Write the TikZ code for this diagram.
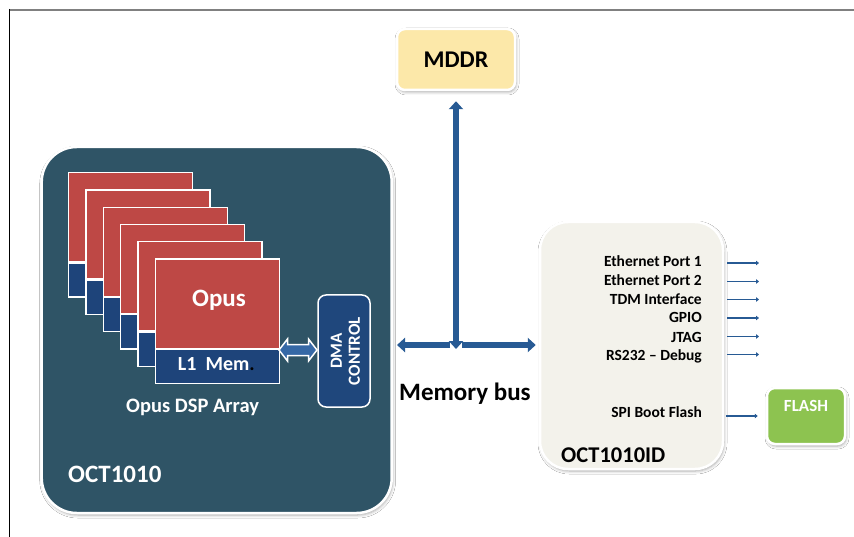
\documentclass[tikz,border=0pt]{standalone}
\usepackage{fontspec}
\setmainfont{Carlito}
\usetikzlibrary{arrows.meta,shadows.blur,calc}
\definecolor{octbg}{HTML}{2F5466}
\definecolor{cardred}{HTML}{BE4845}
\definecolor{cardblue}{HTML}{1E447A}
\definecolor{dmac}{HTML}{1F477C}
\definecolor{busc}{HTML}{275A94}
\definecolor{hollowc}{HTML}{3568A6}
\definecolor{mddrc}{HTML}{FCE8A9}
\definecolor{idc}{HTML}{F3F2EB}
\definecolor{flashc}{HTML}{8DC350}
\definecolor{framegray}{HTML}{808080}
\newcommand\fsz[1]{\fontsize{#1}{#1}\selectfont}
\begin{document}
\begin{tikzpicture}[x=1pt,y=-1pt,
  box/.style={draw=white, line width=2.5pt, rounded corners=#1, inner sep=0pt,
    blur shadow={shadow xshift=1pt, shadow yshift=-2pt, shadow opacity=35, shadow blur radius=3pt}},
  redpart/.style={draw=white, line width=1.3pt, fill=cardred, minimum width=124pt, minimum height=89pt, inner sep=0pt},
  bluepart/.style={draw=white, line width=1.3pt, fill=cardblue, minimum width=124pt, minimum height=34pt, inner sep=0pt},
  txtw/.style={text=white, inner sep=0pt},
  txtb/.style={text=black, inner sep=0pt},
  port/.style={text=black, inner sep=0pt, font=\fsz{15.5}\bfseries},
  bus/.style={draw=busc, line width=6pt, -{Triangle[width=14pt,length=8pt]}},
  portline/.style={draw=busc, line width=1.8pt, -{Triangle[width=4.5pt,length=3pt]}}
]
\useasboundingbox (0,0) rectangle (854,537);
\fill[white] (0,0) rectangle (854,537);
% frame
\draw[framegray, line width=2pt] (9,9.8) -- (854,9.8);
\draw[black, line width=1.3pt] (9.6,9) -- (9.6,537);

% MDDR
\node[box=8pt, fill=mddrc, minimum width=118pt, minimum height=61pt, font=\fsz{24}\bfseries] (mddr) at (456,59.5) {MDDR};

% OCT1010 big box
\node[box=35pt, fill=octbg, minimum width=350pt, minimum height=366pt] (oct) at (216.7,330) {};

% cards
\foreach \i in {0,...,5} {
  \node[redpart, anchor=north west] (r\i) at ({68+17.3*\i},{172+17.3*\i}) {};
  \node[bluepart, anchor=north] (m\i) at (r\i.south) {};
}
\node[txtw, font=\fsz{25}\bfseries, anchor=base] (opust) at (219,306) {Opus};
\node[txtw, font=\fsz{20}\bfseries, anchor=base west] (l1t) at (177.7,370) {L1\ \ Mem\textcolor{black}{.}};
\node[txtw, font=\fsz{20.5}\bfseries, anchor=base west] (arrt) at (126,412.7) {Opus DSP Array};
\node[txtw, font=\fsz{25}\bfseries, anchor=base west] (octt) at (68,482.3) {OCT1010};

% DMA control
\node[draw=white, line width=1.5pt, fill=dmac, rounded corners=8pt, minimum width=52pt, minimum height=112pt, inner sep=0pt] (dma) at (344,351) {};
\node[txtw, rotate=90, align=center, font=\fsz{17}\bfseries] (dmat) at (345.5,351) {DMA\\[1pt]CONTROL};

% hollow double arrow between L1 Mem and DMA
\draw[white, line width=1.5pt, fill=hollowc, line join=miter]
  (279,350) -- (287.5,339) -- (287.5,344.5) -- (308.5,344.5) -- (308.5,339) -- (317,350)
  -- (308.5,361) -- (308.5,355.5) -- (287.5,355.5) -- (287.5,361) -- cycle;

% OCT1010ID box
\node[box=28pt, fill=idc, minimum width=183pt, minimum height=247pt] (idb) at (631.5,345.5) {};
\node[txtb, font=\fsz{22.5}\bfseries, anchor=base west] (idt) at (561,462.3) {OCT1010ID};

% FLASH
\node[box=8pt, fill=flashc, minimum width=78pt, minimum height=56pt] (flash) at (806,416) {};
\node[txtw, font=\fsz{17}\bfseries, anchor=base] (flasht) at (806,411) {FLASH};

% Memory bus
\coordinate (junc) at (456,345);
\coordinate (busl) at (397,345);
\draw[bus] ([xshift=-6pt]junc) -- (busl);
\draw[bus, shorten >=3pt] ([xshift=6pt]junc) -- (idb.west |- junc);
\draw[bus, {Triangle[width=14pt,length=8pt]}-{Triangle[width=14pt,length=8pt]}, shorten >=10pt] ([yshift=-4pt]junc) -- (mddr.south);
\node[txtb, font=\fsz{25}\bfseries, anchor=base west] (membus) at (399,400) {Memory bus};

% ports
\foreach \t/\b/\l [count=\i] in {Ethernet Port 1/266.7/263, Ethernet Port 2/285.8/281.5, TDM Interface/304.5/299.5, GPIO/323/318, JTAG/342/336.5, RS232 -- Debug/360.7/354.5} {
  \node[port, anchor=base east] (pl\i) at (702,\b) {\t};
  \coordinate (pe\i) at (759,\l);
  \draw[portline] ($(idb.east |- pe\i)+(3,0)$) -- (pe\i);
}
\node[port, anchor=base east] (spit) at (702,417.3) {SPI Boot Flash};
\coordinate (spis) at (726,416);
\draw[portline, shorten >=8pt] (spis) -- (flash.west |- spis);
\end{tikzpicture}
\end{document}
